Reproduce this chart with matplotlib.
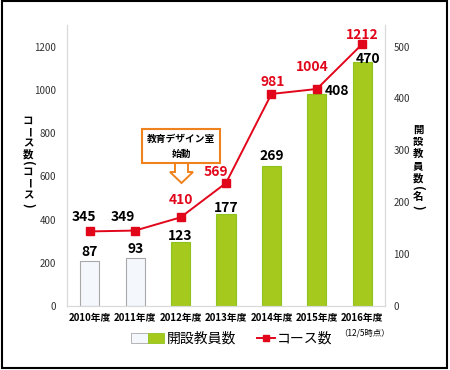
import matplotlib
matplotlib.use("Agg")
import matplotlib.pyplot as plt
from matplotlib.patches import Patch, Rectangle, Polygon
from matplotlib.lines import Line2D
from matplotlib.legend_handler import HandlerTuple

plt.rcParams['font.family'] = ['Noto Sans CJK JP', 'DejaVu Sans']

years = ["2010年度", "2011年度", "2012年度", "2013年度", "2014年度", "2015年度", "2016年度"]
teachers = [87, 93, 123, 177, 269, 408, 470]
courses = [345, 349, 410, 569, 981, 1004, 1212]
new_period = [False, False, True, True, True, True, True]

green = "#a5c91c"
red = "#e2061b"
orange = "#f0821e"

W, H = 450, 370
PT = 0.72  # pixels -> points at dpi 100

fig = plt.figure(figsize=(4.5, 3.7), dpi=100)
ax = fig.add_axes([67 / W, 1 - 306 / H, (385 - 67) / W, (306 - 25) / H])
ax2 = ax.twinx()
ax.set_zorder(ax2.get_zorder() + 1)
ax.patch.set_visible(False)
ax2.patch.set_facecolor("#fffdf4")

x = list(range(len(years)))
bar_colors = [green if n else "#f4f8fc" for n in new_period]
edge_colors = ["#8fc31f" if n else "#a8a8a8" for n in new_period]
ax2.bar(x, teachers, width=0.42, color=bar_colors, edgecolor=edge_colors, linewidth=0.8)

# label offsets in pixels (dx, dy) relative to bar top / marker
bar_off = [(0, 9), (0, 9), (0, 6), (0, 6), (0, 10), (20, 3), (6, 3)]
for i, v in enumerate(teachers):
    dx, dy = bar_off[i]
    ax2.annotate(str(v), (i, v), xytext=(dx * PT, dy * PT), textcoords="offset points",
                 ha="center", va="center", fontsize=10, fontweight="bold", color="black")

ax.plot(x, courses, color=red, marker="s", markersize=5.5, linewidth=1.4)
line_off = [(-6, 14), (-12, 14), (0, 17), (-10, 11), (1, 12), (-5, 22), (0, 9)]
for i, v in enumerate(courses):
    c = red if new_period[i] else "black"
    dx, dy = line_off[i]
    ax.annotate(str(v), (i, v), xytext=(dx * PT, dy * PT), textcoords="offset points",
                ha="center", va="center", fontsize=10, fontweight="bold", color=c)

ax.set_xlim(-0.5, 6.5)
ax.set_ylim(0, 1300)
ax2.set_ylim(0, 1300 / 2.4)
ax.set_yticks(range(0, 1201, 200))
ax2.set_yticks(range(0, 501, 100))
ax.set_xticks(x)
ax.set_xticklabels(years, fontsize=7, fontweight="bold")
ax.tick_params(axis="both", length=0, labelsize=7, colors="#333333")
ax2.tick_params(axis="y", length=0, labelsize=7, colors="#333333", pad=6)
ax.tick_params(axis="x", pad=5, colors="black")
ax.tick_params(axis="y", pad=8)

for a in (ax, ax2):
    a.spines["top"].set_visible(False)
    for s in ("left", "right", "bottom"):
        a.spines[s].set_color("#d9d9d9")


def vertical_label(chars, ys, xpix):
    # stacked vertical text; long vowel and brackets are turned a quarter
    for ch, yp in zip(chars, ys):
        rot = -90 if ch in "ー()" else 0
        fs = 9 if ch in "()" else 7.5
        fig.text(xpix / W, 1 - yp / H, ch, ha="center", va="center", rotation=rot,
                 fontsize=fs, fontweight="bold")


vertical_label("コース数(コース)", [121, 132, 143, 154, 163, 172, 183, 195, 205], 28)
vertical_label("開設教員数(名)", [130, 142, 154, 166, 178, 188, 197, 207], 418)

# annotation box and hollow arrow
ax.text(2.01, 740, "教育デザイン室\n始動", ha="center", va="center", fontsize=7,
        fontweight="bold", linespacing=1.6,
        bbox=dict(boxstyle="square,pad=0.5", fc="white", ec=orange, lw=1.5))
arrow_px = [(175, 162), (175, 172), (170, 172), (181.5, 183), (193, 172), (188, 172), (188, 162)]
fig.add_artist(Polygon([(px / W, 1 - py / H) for px, py in arrow_px], closed=True,
                       transform=fig.transFigure, fc="white", ec=orange, lw=1.4))

fig.text(365 / W, 1 - 333 / H, "（12/5時点）", ha="center", va="center", fontsize=6)

fig.legend([(Patch(fc="#f4f8fc", ec="#a8a8a8", lw=0.6), Patch(fc=green, ec="#8fc31f", lw=0.6))],
           ["開設教員数"], loc="center left", bbox_to_anchor=(131 / W, 1 - 339 / H),
           frameon=False, fontsize=10, handlelength=2.4, handletextpad=0.2,
           borderpad=0, borderaxespad=0,
           handler_map={tuple: HandlerTuple(ndivide=None, pad=0)})
fig.legend([Line2D([], [], color=red, marker="s", markersize=5, linewidth=1.4)],
           ["コース数"], loc="center left", bbox_to_anchor=(257 / W, 1 - 339 / H),
           frameon=False, fontsize=10, handlelength=1.3, handletextpad=0.15,
           borderpad=0, borderaxespad=0)

fig.add_artist(Rectangle((0.004, 0.006), 0.99, 0.99, transform=fig.transFigure,
                         fill=False, ec="black", lw=1.5))

fig.savefig("out.png", dpi=100)
